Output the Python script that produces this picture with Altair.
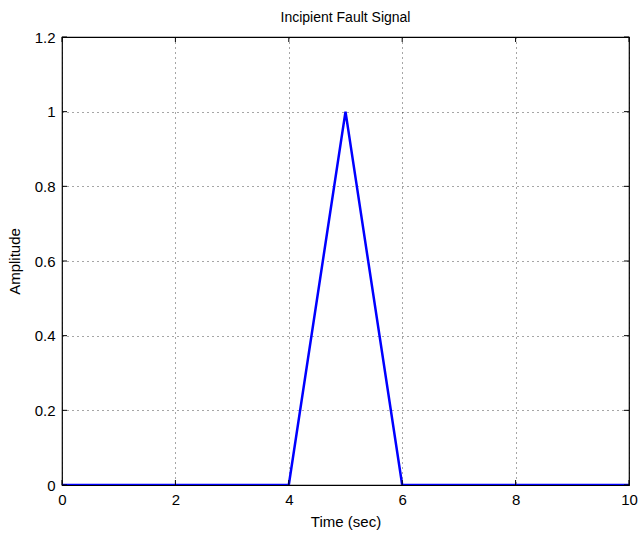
import altair as alt
import pandas as pd

time = [0, 4, 5, 6, 10]
amplitude = [0, 0, 1, 0, 0]
x_ticks = [0, 2, 4, 6, 8, 10]
y_ticks = [0, 0.2, 0.4, 0.6, 0.8, 1.0, 1.2]

df = pd.DataFrame({"t": time, "a": amplitude})
xt = pd.DataFrame({"v": x_ticks})
yt = pd.DataFrame({"v": y_ticks})

FONT = "Liberation Sans"
xs = alt.Scale(domain=[0, 10], nice=False, zero=False)
ys = alt.Scale(domain=[0, 1.2], nice=False, zero=False)

common = dict(grid=True, gridColor="#000", gridDash=[1, 4], gridOpacity=0.7, ticks=False,
              domain=False, labelFontSize=15, titleFontSize=15, titleFontWeight="normal",
              labelFont=FONT, titleFont=FONT, labelColor="#000", titleColor="#000",
              labelFlush=False, labelBound=False, labelOverlap=False, format="~g")

line = alt.Chart(df).mark_line(color="#0000ff", strokeWidth=2.5, clip=True).encode(
    x=alt.X("t:Q", scale=xs,
            axis=alt.Axis(values=x_ticks, title="Time (sec)", labelPadding=7,
                          titlePadding=7, **common)),
    y=alt.Y("a:Q", scale=ys,
            axis=alt.Axis(values=y_ticks, title="Amplitude", labelPadding=7,
                          titlePadding=12, **common)),
)

tick_len = 5
xb = alt.Chart(xt).mark_rule(color="#000", strokeWidth=1).encode(
    x=alt.X("v:Q", scale=xs), y=alt.value(448), y2=alt.value(448 - tick_len))
xtop = alt.Chart(xt).mark_rule(color="#000", strokeWidth=1).encode(
    x=alt.X("v:Q", scale=xs), y=alt.value(0), y2=alt.value(tick_len))
yl = alt.Chart(yt).mark_rule(color="#000", strokeWidth=1).encode(
    y=alt.Y("v:Q", scale=ys), x=alt.value(0), x2=alt.value(tick_len))
yr = alt.Chart(yt).mark_rule(color="#000", strokeWidth=1).encode(
    y=alt.Y("v:Q", scale=ys), x=alt.value(567), x2=alt.value(567 - tick_len))

chart = alt.layer(line, xb, xtop, yl, yr).properties(
    width=567, height=448,
    title=alt.TitleParams("Incipient Fault Signal", fontSize=14, fontWeight="normal",
                          font=FONT, color="#000", offset=5),
    autosize=alt.AutoSizeParams(type="none"),
    padding={"left": 62, "top": 37, "right": 11, "bottom": 48},
    background="white",
).configure_view(stroke="#000", strokeWidth=1.2)

chart.save("out.html", embed_options={"renderer": "svg", "actions": False})
